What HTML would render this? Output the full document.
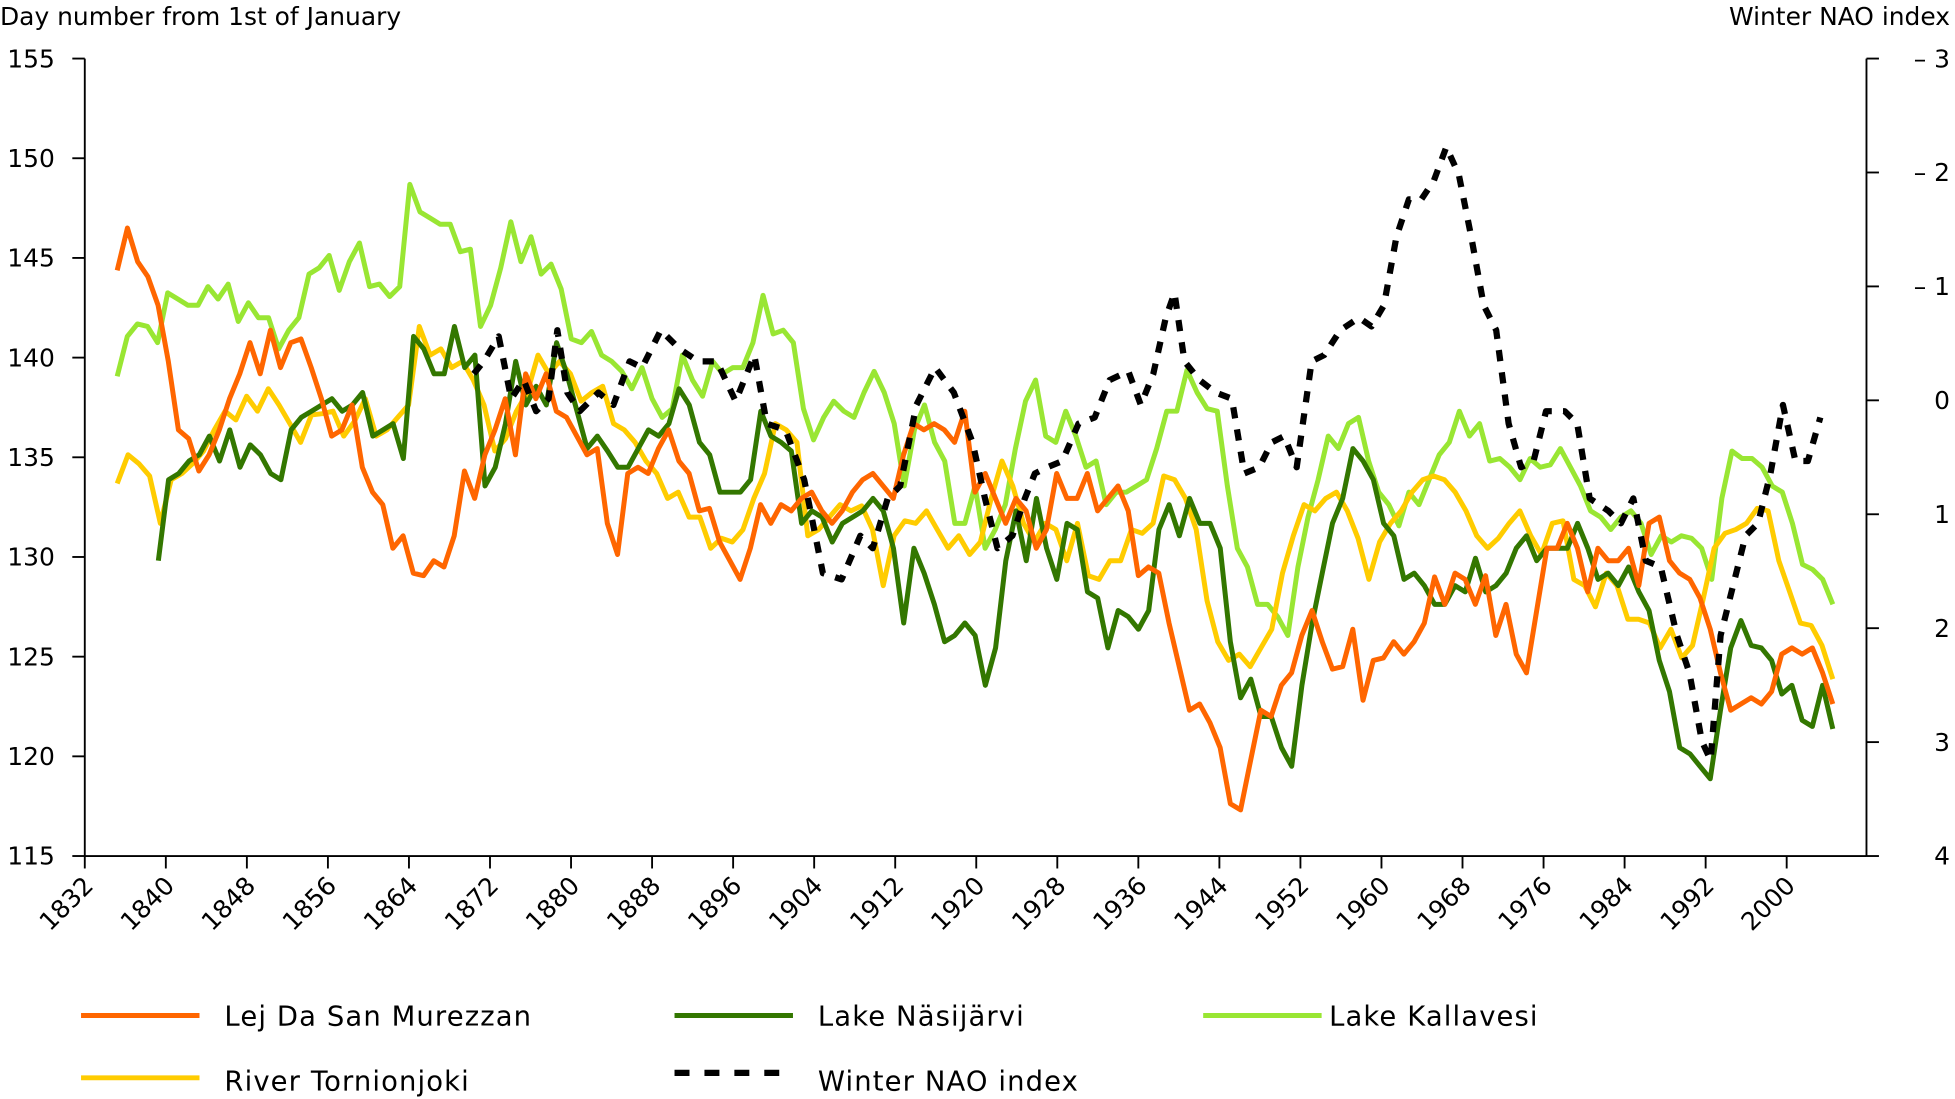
<!DOCTYPE html>
<html><head><meta charset="utf-8"><style>
html,body{margin:0;padding:0;background:#fff;}
svg{display:block;}
text{font-family:"DejaVu Sans","Liberation Sans",sans-serif;fill:#000;}
</style></head><body>
<svg id="c" width="1955" height="1099" viewBox="0 0 1568 882" preserveAspectRatio="none" xmlns="http://www.w3.org/2000/svg">
<text x="0" y="20" font-size="20">Day number from 1st of January</text>
<text x="1564" y="20" font-size="20" text-anchor="end">Winter NAO index</text>
<g id="ax" stroke="#000" stroke-width="1.5" fill="none">
<line x1="68" y1="47" x2="68" y2="687"/>
<line x1="68" y1="687" x2="1497" y2="687"/>
<line x1="1497" y1="47" x2="1497" y2="687"/>
</g>
<g id="ticks"></g>
<g id="series" fill="none" stroke-linejoin="round"></g>
<g font-size="22" letter-spacing="0.9">
<line x1="65" y1="815" x2="160" y2="815" stroke="#ff6600" stroke-width="4"/><text x="180" y="823">Lej Da San Murezzan</text>
<line x1="541" y1="815" x2="636" y2="815" stroke="#337700" stroke-width="4"/><text x="656" y="823">Lake Näsijärvi</text>
<line x1="965" y1="815" x2="1060" y2="815" stroke="#99e633" stroke-width="4"/><text x="1066" y="823">Lake Kallavesi</text>
<line x1="65" y1="865" x2="160" y2="865" stroke="#ffcc00" stroke-width="4"/><text x="180" y="875">River Tornionjoki</text>
<line x1="541" y1="861" x2="636" y2="861" stroke="#000" stroke-width="5" stroke-dasharray="12,12"/><text x="656" y="875">Winter NAO index</text>
</g>
</svg>
<script>
var ns="http://www.w3.org/2000/svg",svg=document.getElementById('c');
function el(t,a,p,txt){var e=document.createElementNS(ns,t);for(var k in a)e.setAttribute(k,a[k]);if(txt!=null)e.textContent=txt;(p||svg).appendChild(e);return e;}
var tk=document.getElementById('ticks');
for(var i=0;i<=8;i++){var v=155-5*i,y=47+80*i;el('line',{x1:58,y1:y,x2:68,y2:y,stroke:'#000','stroke-width':1.5},tk);el('text',{x:44,y:y+7,'font-size':20,'text-anchor':'end'},tk,v);}
var rl=['– 3','– 2','– 1','0','1','2','3','4'];
for(var i=0;i<8;i++){var y=47+91.43*i;el('line',{x1:1497,y1:y,x2:1507,y2:y,stroke:'#000','stroke-width':1.5},tk);el('text',{x:1564,y:y+7,'font-size':20,'text-anchor':'end'},tk,rl[i]);}
for(var i=0;i<=21;i++){var x=68+65*i;el('line',{x1:x,y1:687,x2:x,y2:697,stroke:'#000','stroke-width':1.5},tk);el('text',{x:x+8,y:712,'font-size':20,'text-anchor':'end',transform:'rotate(-45 '+(x+8)+' 712)'},tk,1832+8*i);}
var S=document.getElementById('series');
function line(x0,x1,ys,col){var n=ys.length,p=[];for(var i=0;i<n;i++)p.push((x0+(x1-x0)*i/(n-1)).toFixed(1)+','+ys[i]);el('polyline',{points:p.join(' '),stroke:col,'stroke-width':4},S);}
line(94,1470,[302,270,260,262,275,235,240,245,245,230,240,228,258,243,255,255,280,265,255,220,215,205,233,210,195,230,228,238,230,148,170,175,180,180,202,200,262,245,215,178,210,190,220,212,232,272,275,266,285,290,298,312,295,320,335,328,285,305,318,290,300,295,295,275,237,268,265,275,328,353,335,322,330,335,315,298,315,340,390,345,325,355,370,420,420,390,440,425,405,360,322,305,350,355,330,350,375,370,405,395,395,390,385,360,330,330,297,315,328,330,390,440,455,485,485,495,510,455,415,385,350,360,340,335,370,395,405,422,395,405,385,365,355,330,350,340,370,368,375,385,368,375,373,360,375,390,410,415,425,415,410,420,445,430,435,430,432,440,465,400,362,368,368,375,390,395,420,453,457,465,485],'#99e633');
line(94,1470,[388,365,372,382,420,385,380,372,362,345,330,337,318,330,312,325,340,355,333,332,330,350,338,320,350,345,335,325,262,285,280,295,290,305,325,362,352,330,315,285,300,290,300,322,315,310,340,345,355,370,380,400,395,415,415,440,432,435,425,400,380,340,345,355,430,425,415,405,410,406,425,470,430,418,420,410,425,440,430,445,435,400,370,390,420,435,420,425,450,420,462,465,450,450,425,428,420,382,385,400,425,482,515,530,525,535,520,505,460,430,405,410,400,395,410,432,465,435,420,410,395,385,382,385,395,410,430,440,432,420,410,430,445,420,418,465,470,487,460,470,497,497,500,520,505,528,518,480,440,428,425,420,408,410,450,475,500,502,518,545],'#ffcc00');
line(127,1470,[450,385,380,370,365,350,370,345,375,357,365,380,385,345,335,330,325,320,330,325,315,350,345,340,368,270,280,300,300,262,295,285,390,375,340,290,325,310,325,275,300,330,360,350,362,375,375,360,345,350,340,312,325,355,365,395,395,395,385,330,350,355,362,420,410,415,435,420,415,410,400,410,440,500,440,460,485,515,510,500,510,550,520,450,410,450,400,440,465,420,425,475,480,520,490,495,505,490,425,405,430,400,420,420,440,515,560,545,575,575,600,615,550,500,460,420,400,360,370,385,420,430,465,460,470,485,485,470,475,448,475,470,460,440,430,450,440,440,440,420,440,465,460,470,455,475,490,530,555,600,605,615,625,570,520,498,518,520,530,557,550,578,583,550,585],'#337700');
line(94,1470,[217,183,210,222,245,290,345,352,378,365,345,320,300,275,300,265,295,275,272,295,320,350,345,325,375,395,405,440,430,460,462,450,455,430,378,400,365,345,320,365,300,320,300,330,335,350,365,360,420,445,380,375,380,360,345,370,380,410,408,435,450,465,440,405,420,405,410,400,395,410,420,410,395,385,380,390,400,365,340,345,340,345,355,330,395,380,400,420,400,410,440,425,380,400,400,380,410,400,390,410,462,455,460,500,535,570,565,580,600,645,650,610,570,575,550,540,510,490,515,537,535,505,562,530,528,515,525,515,500,463,485,460,465,485,462,510,485,525,540,490,440,440,420,440,475,440,450,450,440,470,420,415,450,460,465,480,505,540,570,565,560,565,555,525,520,525,520,540,565],'#ff6600');
var nao=[[380,300],[388,290],[400,270],[410,320],[420,305],[430,330],[440,320],[447,265],[455,315],[465,330],[480,315],[492,325],[505,290],[515,295],[530,265],[545,280],[560,290],[575,290],[590,322],[605,285],[615,340],[630,345],[645,385],[660,460],[675,465],[690,430],[700,440],[712,400],[722,390],[735,325],[750,295],[765,315],[780,355],[790,400],[800,440],[812,430],[822,400],[830,380],[840,375],[852,370],[865,340],[878,335],[890,305],[905,298],[915,325],[925,300],[935,255],[942,235],[950,290],[962,305],[975,315],[988,320],[998,380],[1010,375],[1020,355],[1030,350],[1040,375],[1052,290],[1062,285],[1075,265],[1090,255],[1100,262],[1110,245],[1120,190],[1130,160],[1140,160],[1150,145],[1160,118],[1170,140],[1180,190],[1190,245],[1200,265],[1210,340],[1220,375],[1230,370],[1240,330],[1255,330],[1265,340],[1275,400],[1290,410],[1300,420],[1310,400],[1320,450],[1332,455],[1345,510],[1355,540],[1365,595],[1372,610],[1380,510],[1390,470],[1400,430],[1410,420],[1420,380],[1430,325],[1440,370],[1450,370],[1460,335]];
el('polyline',{points:nao.map(function(p){return p.join(',')}).join(' '),stroke:'#000','stroke-width':5,'stroke-dasharray':'9,9',fill:'none'},S);
</script>
</body></html>
